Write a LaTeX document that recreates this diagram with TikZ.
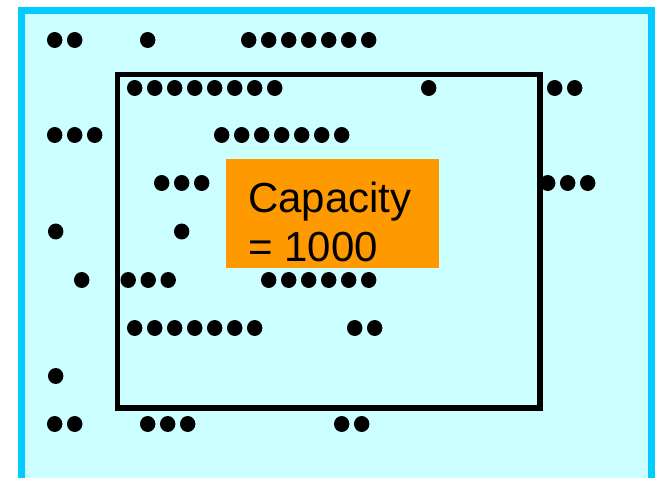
\documentclass[tikz,border=0pt]{standalone}
\usepackage{fontspec}
\setmainfont{Liberation Sans}
\definecolor{bgcyan}{HTML}{CCFFFF}
\definecolor{framecyan}{HTML}{00CCFF}
\definecolor{boxorange}{HTML}{FF9900}
\newcommand\mydotrow[3]{%
  \foreach \k in {1,...,#3}{%
    \fill[black] ({#1+7.7+20*(\k-1)},#2) ellipse [x radius=7.7pt, y radius=8pt];%
  }%
}
\begin{document}
\begin{tikzpicture}[x=1pt,y=-1pt,
  capfont/.style={font=\fontsize{42}{49}\selectfont, inner sep=0pt, anchor=base west, text=black}]
\useasboundingbox (0,0) rectangle (656,478);
\draw[framecyan, fill=bgcyan, line width=7pt] (21.5,11) rectangle (651,481);
\draw[black, line width=5.5pt] (117.5,74.5) rectangle (540,408);
\fill[boxorange] (226,159) rectangle (439,268);
\node[capfont] (capA) at (248,213) {Capacity};
\node[capfont] (capB) at (248,262) {= 1000};
\foreach \sx/\sy/\n in {47/40/2, 140/40/1, 241/40/7,
  127/88/8, 421/88/1, 547/88/2,
  47/135/3, 214/135/7,
  154/183/3, 540/183/3,
  48/231.5/1, 174/231.5/1,
  74/280/1, 120.5/280/3, 261/280/6,
  127/328/7, 347/328/2,
  48/376/1,
  47/424/2, 140/424/3, 334/424/2}{
  \mydotrow{\sx}{\sy}{\n}
}
\end{tikzpicture}
\end{document}
